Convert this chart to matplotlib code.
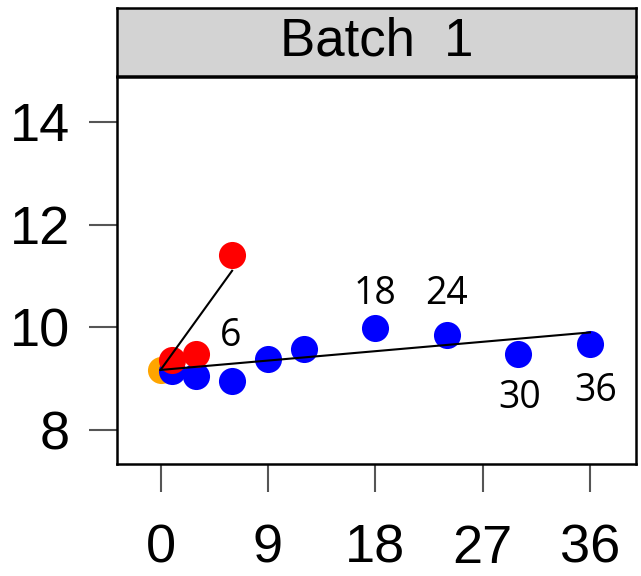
import matplotlib
matplotlib.use("Agg")
import matplotlib.pyplot as plt

# Data
orange_x = [0]
orange_y = [9.17]
red_x = [1, 3, 6]
red_y = [9.37, 9.48, 11.40]
blue_x = [1, 3, 6, 9, 12, 18, 24, 30, 36]
blue_y = [9.15, 9.05, 8.95, 9.38, 9.57, 9.98, 9.85, 9.48, 9.67]
red_fit_x = [0, 6]
red_fit_y = [9.17, 11.10]
blue_fit_x = [0, 36]
blue_fit_y = [9.17, 9.90]
label_text = ["6", "18", "24", "30", "36"]
label_x = [5.9, 18.0, 24.0, 30.1, 36.5]
label_y = [9.83, 10.64, 10.64, 8.62, 8.76]
xticks = [0, 9, 18, 27, 36]
yticks = [8, 10, 12, 14]
strip_title = "Batch  1"

W, H = 641, 576
fig = plt.figure(figsize=(W / 100, H / 100), dpi=100)
L, R, T, B = 117, 636, 77, 464
ax = fig.add_axes([L / W, 1 - B / H, (R - L) / W, (B - T) / H])

ax.plot(orange_x, orange_y, 'o', color='#FFA500', ms=19.5, mec='none', zorder=2)
ax.plot(blue_x, blue_y, 'o', color='#0000FF', ms=19.5, mec='none', zorder=3)
ax.plot(red_x, red_y, 'o', color='#FF0000', ms=19.5, mec='none', zorder=4)
ax.plot(red_fit_x, red_fit_y, '-', color='black', lw=1.5, zorder=5)
ax.plot(blue_fit_x, blue_fit_y, '-', color='black', lw=1.5, zorder=5)

for t, x, y in zip(label_text, label_x, label_y):
    ax.text(x, y, t, fontsize=27, family='Open Sans', ha='center', va='center', zorder=6)

ax.set_xlim(-3.65, 39.86)
ax.set_ylim(7.34, 14.87)
ax.set_xticks(xticks)
ax.set_yticks(yticks)
ax.set_xticklabels([str(v) for v in xticks], family='Liberation Sans', fontsize=39)
ax.set_yticklabels([str(v) for v in yticks], family='Liberation Sans', fontsize=39)
ax.tick_params(axis='both', length=20, width=1.5, color='#555555', direction='out')
ax.tick_params(axis='x', pad=23)
ax.tick_params(axis='y', pad=14)
for s in ax.spines.values():
    s.set_linewidth(1.8)
    s.set_color('black')

# strip
sT, sB = 8, 76
sax = fig.add_axes([L / W, 1 - sB / H, (R - L) / W, (sB - sT) / H])
sax.set_facecolor('#D3D3D3')
sax.set_xticks([])
sax.set_yticks([])
for s in sax.spines.values():
    s.set_linewidth(1.8)
    s.set_color('black')
sax.text(0.5, 0.5, strip_title, transform=sax.transAxes, ha='center', va='center',
         fontsize=38, family='Liberation Sans')

fig.savefig("out.png", dpi=100)
